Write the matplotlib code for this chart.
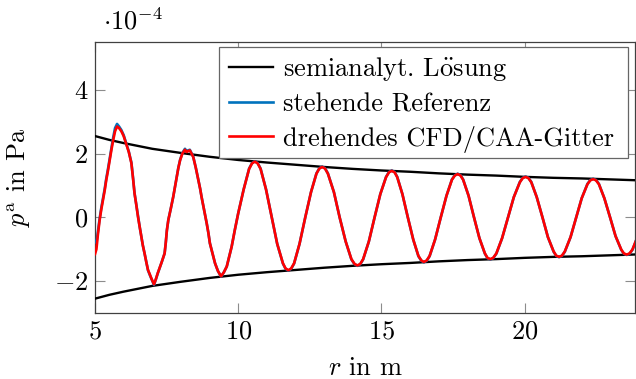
import matplotlib
matplotlib.use("Agg")
import matplotlib.pyplot as plt
from matplotlib.patches import Rectangle
from matplotlib.ticker import FixedLocator, FuncFormatter

plt.rcParams['font.family'] = ['cmr10', 'DejaVu Serif']
plt.rcParams['mathtext.fontset'] = 'cm'
plt.rcParams['axes.unicode_minus'] = False

# semi-analytical envelope
env_r = [5, 5.5, 6, 6.5, 7, 8, 9, 10, 11, 12, 13, 14, 15, 16, 17, 18, 19, 20, 21, 22, 23, 24]
env_upper = [2.55, 2.43, 2.33, 2.24, 2.15, 2.02, 1.90, 1.80, 1.72, 1.65, 1.58, 1.52, 1.47,
             1.43, 1.38, 1.34, 1.31, 1.27, 1.24, 1.22, 1.19, 1.16]
env_lower = [-2.55, -2.43, -2.33, -2.24, -2.15, -2.02, -1.90, -1.80, -1.72, -1.65, -1.58, -1.52, -1.47,
             -1.43, -1.38, -1.34, -1.31, -1.27, -1.24, -1.22, -1.19, -1.16]

# near field (r = 5 ... 10), both simulations
early_r = [5.00, 5.05, 5.10, 5.16, 5.22, 5.28, 5.34, 5.39, 5.45, 5.51, 5.57, 5.63, 5.70, 5.77, 5.84,
           5.92, 6.00, 6.09, 6.18, 6.27, 6.33, 6.38, 6.44, 6.50, 6.56, 6.62, 6.67, 6.73, 6.79, 6.85,
           6.91, 6.97, 7.06, 7.12, 7.19, 7.26, 7.33, 7.43, 7.47, 7.51, 7.56, 7.64, 7.73, 7.79, 7.85,
           7.91, 7.97, 8.05, 8.14, 8.20, 8.25, 8.31, 8.37, 8.43, 8.52, 8.61, 8.67, 8.72, 8.81, 8.90,
           8.96, 9.01, 9.10, 9.19, 9.29, 9.40, 9.50, 9.60, 9.68, 9.77, 9.88]
early_rot_p = [-1.15, -1.00, -0.55, -0.10, 0.25, 0.55, 0.85, 1.15, 1.45, 1.78, 2.10, 2.40, 2.70, 2.85, 2.80,
               2.70, 2.55, 2.30, 2.05, 1.70, 1.20, 0.75, 0.40, 0.02, -0.30, -0.61, -0.88, -1.13, -1.40, -1.65,
               -1.78, -1.92, -2.10, -1.95, -1.75, -1.58, -1.40, -1.13, -0.80, -0.40, -0.08, 0.25, 0.64, 0.95, 1.27,
               1.55, 1.79, 2.00, 2.12, 2.05, 2.08, 2.10, 2.00, 1.89, 1.55, 1.17, 0.90, 0.64, 0.22, -0.19,
               -0.50, -0.81, -1.12, -1.44, -1.68, -1.85, -1.72, -1.54, -1.25, -0.92, -0.40]
early_ref_p = [-0.75, -0.80, -0.45, -0.05, 0.30, 0.60, 0.90, 1.20, 1.50, 1.82, 2.15, 2.48, 2.80, 2.93, 2.85,
               2.74, 2.58, 2.32, 2.06, 1.72, 1.22, 0.76, 0.40, 0.02, -0.30, -0.61, -0.88, -1.13, -1.40, -1.66,
               -1.80, -1.93, -2.12, -1.96, -1.76, -1.58, -1.40, -1.13, -0.80, -0.40, -0.08, 0.25, 0.64, 0.95, 1.27,
               1.56, 1.80, 2.02, 2.15, 2.07, 2.10, 2.12, 2.01, 1.90, 1.55, 1.17, 0.90, 0.64, 0.22, -0.19,
               -0.50, -0.81, -1.12, -1.44, -1.68, -1.86, -1.72, -1.54, -1.25, -0.92, -0.40]

# far field (r = 10 ... 24)
tail_r = [10.00, 10.19, 10.38, 10.48, 10.58, 10.68, 10.78, 10.97, 11.17, 11.36, 11.56, 11.65, 11.75,
          11.85, 11.95, 12.14, 12.34, 12.54, 12.73, 12.83, 12.93, 13.03, 13.13, 13.34, 13.54, 13.75,
          13.95, 14.06, 14.16, 14.26, 14.36, 14.56, 14.76, 14.96, 15.16, 15.26, 15.36, 15.46, 15.55,
          15.73, 15.92, 16.11, 16.29, 16.39, 16.48, 16.58, 16.68, 16.87, 17.07, 17.27, 17.46, 17.56,
          17.66, 17.76, 17.85, 18.04, 18.23, 18.42, 18.61, 18.70, 18.80, 18.90, 19.01, 19.21, 19.42,
          19.62, 19.83, 19.93, 20.03, 20.13, 20.23, 20.42, 20.62, 20.81, 21.01, 21.10, 21.20, 21.30,
          21.40, 21.60, 21.80, 21.99, 22.19, 22.29, 22.39, 22.49, 22.59, 22.78, 22.98, 23.17, 23.37,
          23.46, 23.56, 23.66, 23.76, 23.95]
tail_rot_p = [0.13, 0.875, 1.52, 1.69, 1.75, 1.69, 1.52, 0.875, 0.0, -0.83, -1.44, -1.60, -1.66,
              -1.60, -1.44, -0.83, 0.0, 0.79, 1.37, 1.53, 1.58, 1.53, 1.37, 0.79, 0.0, -0.755,
              -1.31, -1.46, -1.51, -1.46, -1.31, -0.755, 0.0, 0.73, 1.26, 1.41, 1.46, 1.41, 1.26,
              0.73, 0.0, -0.70, -1.21, -1.35, -1.40, -1.35, -1.21, -0.70, 0.0, 0.68, 1.18, 1.31,
              1.36, 1.31, 1.18, 0.68, 0.0, -0.655, -1.13, -1.27, -1.31, -1.27, -1.13, -0.655, 0.0,
              0.635, 1.10, 1.23, 1.27, 1.23, 1.10, 0.635, 0.0, -0.62, -1.07, -1.20, -1.24, -1.20,
              -1.07, -0.62, 0.0, 0.60, 1.04, 1.16, 1.20, 1.16, 1.04, 0.60, 0.0, -0.585, -1.01,
              -1.13, -1.17, -1.13, -1.01, -0.585]
tail_ref_p = [0.13, 0.88, 1.53, 1.70, 1.76, 1.70, 1.53, 0.88, 0.0, -0.83, -1.45, -1.61, -1.67,
              -1.61, -1.45, -0.83, 0.0, 0.79, 1.38, 1.54, 1.59, 1.54, 1.38, 0.79, 0.0, -0.755,
              -1.32, -1.47, -1.52, -1.47, -1.32, -0.755, 0.0, 0.73, 1.27, 1.42, 1.47, 1.42, 1.27,
              0.73, 0.0, -0.70, -1.22, -1.36, -1.41, -1.36, -1.22, -0.70, 0.0, 0.68, 1.19, 1.32,
              1.37, 1.32, 1.19, 0.68, 0.0, -0.655, -1.14, -1.28, -1.32, -1.28, -1.14, -0.655, 0.0,
              0.635, 1.11, 1.24, 1.28, 1.24, 1.11, 0.635, 0.0, -0.62, -1.08, -1.21, -1.25, -1.21,
              -1.08, -0.62, 0.0, 0.60, 1.05, 1.17, 1.21, 1.17, 1.05, 0.60, 0.0, -0.585, -1.02,
              -1.14, -1.18, -1.14, -1.02, -0.585]

x_ticks = [5, 10, 15, 20]
y_ticks = [-2, 0, 2, 4]
labels = [r"semianalyt. L$\ddot{\mathrm{o}}$sung", "stehende Referenz", "drehendes CFD/CAA-Gitter"]

FS = 19
W, H = 636, 379

fig = plt.figure(figsize=(W / 100, H / 100), dpi=100)
ax = fig.add_axes([95/W, 1 - 313/H, 540/W, 271/H])

l1, = ax.plot(env_r, env_upper, color='black', lw=1.7, zorder=3)
ax.plot(env_r, env_lower, color='black', lw=1.7, zorder=3)
l2, = ax.plot(early_r + tail_r, early_ref_p + tail_ref_p, color='#0072BD', lw=1.9, zorder=4,
              solid_joinstyle='round')
l3, = ax.plot(early_r + tail_r, early_rot_p + tail_rot_p, color='#FF0000', lw=1.9, zorder=5,
              solid_joinstyle='round')

ax.set_xlim(5, 23.85)
ax.set_ylim(-3, 5.5)
ax.xaxis.set_major_locator(FixedLocator(x_ticks))
ax.yaxis.set_major_locator(FixedLocator(y_ticks))
fmt = FuncFormatter(lambda v, p: r"$%d$" % v)
ax.xaxis.set_major_formatter(fmt)
ax.yaxis.set_major_formatter(fmt)
ax.tick_params(direction='in', length=7.5, width=0.8, color='0.55', labelsize=FS,
               top=True, right=True, pad=5)
for s in ax.spines.values():
    s.set_color('0.25')
    s.set_linewidth(0.9)

ax.set_xlabel(r"$r$ in m", fontsize=FS, labelpad=9)
ax.set_ylabel(r"$p^{\mathrm{a}}$ in Pa", fontsize=FS, labelpad=15)

fig.text(103/W, 1 - 35/H, r"$\cdot 10^{-4}$", fontsize=FS, va='bottom', ha='left')

# legend frame (pgfplots style box)
frame = Rectangle((219/W, 1 - 158/H), 409/W, 111/H, transform=fig.transFigure,
                  facecolor='white', edgecolor='0.4', linewidth=0.9, zorder=9, clip_on=False)
ax.add_patch(frame)

leg = ax.legend([l1, l2, l3], labels, loc='upper left',
                bbox_to_anchor=((229 - 95) / 540, (313 - 55) / 271), borderaxespad=0,
                fontsize=FS, frameon=False,
                handlelength=1.65, handletextpad=0.4, labelspacing=0.36,
                borderpad=0.0)
leg.set_zorder(10)

fig.savefig("out.png", dpi=100)
